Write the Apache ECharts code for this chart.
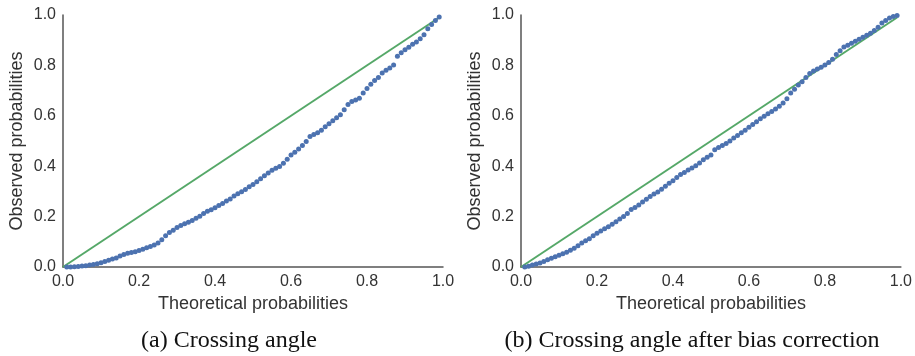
<!DOCTYPE html>
<html>
<head>
<meta charset="utf-8">
<script src="https://cdn.jsdelivr.net/npm/echarts@6/dist/echarts.min.js"></script>
<style>
  html, body { margin: 0; padding: 0; background: #fff; }
  #chart { width: 915px; height: 356px; }
</style>
</head>
<body>
<div id="chart"></div>
<script>
// theoretical probabilities (shared by both panels)
const theoretical = [
  0.01, 0.02, 0.03, 0.04, 0.05, 0.06, 0.07, 0.08, 0.09, 0.10,
  0.11, 0.12, 0.13, 0.14, 0.15, 0.16, 0.17, 0.18, 0.19, 0.20,
  0.21, 0.22, 0.23, 0.24, 0.25, 0.26, 0.27, 0.28, 0.29, 0.30,
  0.31, 0.32, 0.33, 0.34, 0.35, 0.36, 0.37, 0.38, 0.39, 0.40,
  0.41, 0.42, 0.43, 0.44, 0.45, 0.46, 0.47, 0.48, 0.49, 0.50,
  0.51, 0.52, 0.53, 0.54, 0.55, 0.56, 0.57, 0.58, 0.59, 0.60,
  0.61, 0.62, 0.63, 0.64, 0.65, 0.66, 0.67, 0.68, 0.69, 0.70,
  0.71, 0.72, 0.73, 0.74, 0.75, 0.76, 0.77, 0.78, 0.79, 0.80,
  0.81, 0.82, 0.83, 0.84, 0.85, 0.86, 0.87, 0.88, 0.89, 0.90,
  0.91, 0.92, 0.93, 0.94, 0.95, 0.96, 0.97, 0.98, 0.99
]

// (a) crossing angle
const observedA = [
  0.000, 0.000, 0.001, 0.002, 0.004, 0.005, 0.008, 0.010, 0.013, 0.017,
  0.022, 0.027, 0.032, 0.036, 0.044, 0.050, 0.055, 0.058, 0.061, 0.065,
  0.070, 0.076, 0.081, 0.087, 0.095, 0.108, 0.124, 0.137, 0.146, 0.157,
  0.165, 0.172, 0.178, 0.185, 0.193, 0.201, 0.212, 0.221, 0.227, 0.235,
  0.244, 0.252, 0.262, 0.270, 0.282, 0.291, 0.299, 0.308, 0.318, 0.327,
  0.338, 0.350, 0.362, 0.373, 0.384, 0.392, 0.399, 0.412, 0.428, 0.444,
  0.455, 0.468, 0.482, 0.498, 0.518, 0.526, 0.533, 0.543, 0.557, 0.568,
  0.580, 0.592, 0.604, 0.624, 0.645, 0.657, 0.663, 0.670, 0.690, 0.708,
  0.725, 0.740, 0.752, 0.770, 0.781, 0.790, 0.802, 0.836, 0.850, 0.862,
  0.872, 0.884, 0.893, 0.906, 0.922, 0.945, 0.962, 0.978, 0.992
]

// (b) crossing angle after bias correction
const observedB = [
  0.000, 0.003, 0.008, 0.012, 0.016, 0.022, 0.029, 0.035, 0.041, 0.047,
  0.053, 0.059, 0.066, 0.074, 0.084, 0.095, 0.104, 0.112, 0.124, 0.134,
  0.143, 0.152, 0.160, 0.170, 0.180, 0.190, 0.200, 0.212, 0.228, 0.236,
  0.246, 0.258, 0.269, 0.280, 0.290, 0.298, 0.309, 0.320, 0.332, 0.342,
  0.355, 0.367, 0.375, 0.385, 0.393, 0.402, 0.413, 0.426, 0.436, 0.444,
  0.465, 0.474, 0.482, 0.490, 0.500, 0.512, 0.522, 0.533, 0.543, 0.555,
  0.565, 0.576, 0.588, 0.598, 0.608, 0.617, 0.627, 0.638, 0.651, 0.668,
  0.690, 0.705, 0.722, 0.735, 0.752, 0.768, 0.778, 0.786, 0.793, 0.802,
  0.812, 0.824, 0.843, 0.858, 0.873, 0.880, 0.888, 0.896, 0.904, 0.912,
  0.920, 0.928, 0.938, 0.951, 0.968, 0.978, 0.988, 0.994, 0.998
]

// reference diagonal end points
const diagonal = [0, 0.99]

const captions = ['(a) Crossing angle', '(b) Crossing angle after bias correction']
const xName = 'Theoretical probabilities'
const yName = 'Observed probabilities'

const blue = '#4c72b0'
const green = '#55a868'
const axisColor = '#555555'
const textColor = '#333333'
const sans = 'Liberation Sans, Arial, sans-serif'

function pairs(xs, ys) {
  return xs.map((x, i) => [x, ys[i]])
}

function makeAxis(gridIndex, name, gap) {
  return {
    type: 'value', gridIndex: gridIndex, min: 0, max: 1, interval: 0.2,
    name: name, nameLocation: 'middle', nameGap: gap,
    nameTextStyle: { fontFamily: sans, fontSize: 18, color: textColor },
    axisLine: { show: true, lineStyle: { color: axisColor, width: 1.5 } },
    axisTick: { show: false },
    splitLine: { show: false },
    axisLabel: { fontFamily: sans, fontSize: 16, color: textColor, margin: 7,
      formatter: v => v.toFixed(1) }
  }
}

function makeSeries(idx, observed) {
  return [
    {
      type: 'line', xAxisIndex: idx, yAxisIndex: idx,
      data: pairs(diagonal, diagonal), symbol: 'none', silent: true,
      lineStyle: { color: green, width: 2 }, z: 1
    },
    {
      type: 'scatter', xAxisIndex: idx, yAxisIndex: idx,
      data: pairs(theoretical, observed), symbolSize: 5,
      itemStyle: { color: blue, opacity: 1 }, z: 2
    }
  ]
}

let option = {
  animation: false,
  backgroundColor: '#ffffff',
  grid: [
    { left: 63, right: 472, top: 15, bottom: 89 },
    { left: 521, right: 13, top: 15, bottom: 89 }
  ],
  xAxis: [makeAxis(0, xName, 26), makeAxis(1, xName, 26)],
  yAxis: [makeAxis(0, yName, 37), makeAxis(1, yName, 37)],
  series: makeSeries(0, observedA).concat(makeSeries(1, observedB)),
  graphic: [
    { type: 'text', x: 229, y: 341, style: { text: captions[0], fontFamily: 'Liberation Serif, serif', fontSize: 24, fill: '#111', align: 'center', verticalAlign: 'middle' } },
    { type: 'text', x: 692, y: 341, style: { text: captions[1], fontFamily: 'Liberation Serif, serif', fontSize: 24, fill: '#111', align: 'center', verticalAlign: 'middle' } }
  ]
}

let mychart = echarts.init(document.getElementById('chart'))
mychart.setOption(option)
</script>
</body>
</html>
